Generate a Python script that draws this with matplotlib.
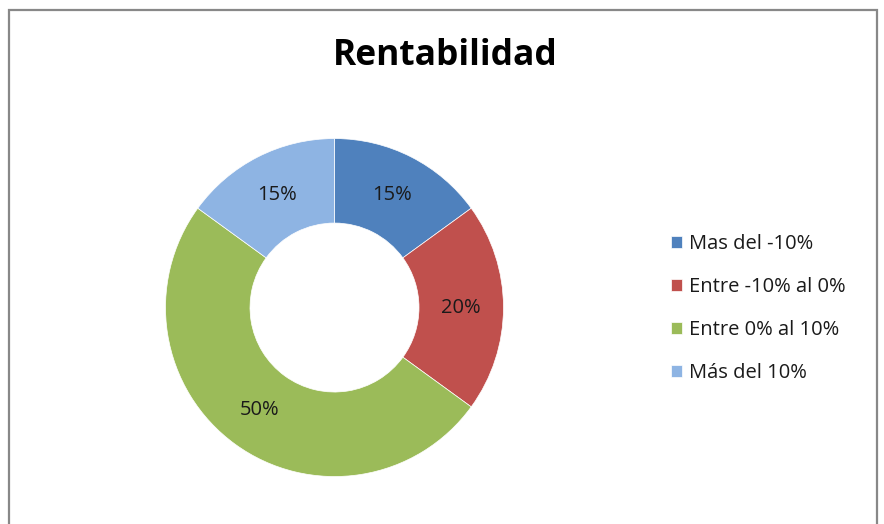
import matplotlib.pyplot as plt
from matplotlib.patches import Rectangle

labels = ['Mas del -10%', 'Entre -10% al 0%', 'Entre 0% al 10%', 'Más del 10%']
values = [15, 20, 50, 15]
colors = ['#4F81BD', '#C0504D', '#9BBB59', '#8EB4E3']

plt.rcParams['font.family'] = ['Open Sans', 'DejaVu Sans']

fig = plt.figure(figsize=(8.84, 5.24), dpi=100)

# chart frame
fig.patches.append(Rectangle((9 / 884, -0.05), 868 / 884, 1.05 - 10 / 524,
                             transform=fig.transFigure, fill=False,
                             edgecolor='#888888', linewidth=1.6))

ax = fig.add_axes([0.1872, 0.0906, 0.3824, 0.645])
wedges, texts, autotexts = ax.pie(
    values, colors=colors, startangle=90, counterclock=False,
    autopct='%1.0f%%', pctdistance=0.75,
    wedgeprops=dict(width=0.5, edgecolor='white', linewidth=0.5),
    textprops=dict(fontsize=14.5, color='#1a1a1a'))
ax.set_xlim(-1, 1)
ax.set_ylim(-1, 1)
ax.set_aspect('equal')

fig.text(445 / 884, 1 - 56 / 524, 'Rentabilidad', ha='center', va='center',
         fontsize=25.5, fontweight='bold', color='black')

fig.legend(wedges, labels, loc='upper left', bbox_to_anchor=(661 / 884, 1 - 224 / 524),
           frameon=False, fontsize=14.5, handlelength=0.55, handleheight=0.55,
           handletextpad=0.35, labelspacing=1.14, borderpad=0, labelcolor='#1a1a1a')

fig.savefig('out.png', dpi=100)
